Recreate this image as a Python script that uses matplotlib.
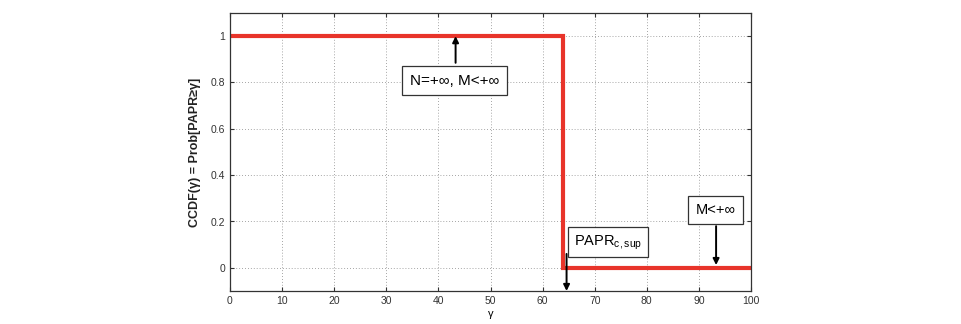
import matplotlib
matplotlib.use("Agg")
import matplotlib.pyplot as plt

plt.rcParams["font.family"] = ["Liberation Sans", "DejaVu Sans"]
plt.rcParams["mathtext.fontset"] = "custom"
plt.rcParams["mathtext.rm"] = "Liberation Sans"

# data
gamma = [0, 64, 64, 100]
ccdf = [1, 1, 0, 0]
xticks = [0, 10, 20, 30, 40, 50, 60, 70, 80, 90, 100]
yticks = [0, 0.2, 0.4, 0.6, 0.8, 1]
ytick_labels = ["0", "0.2", "0.4", "0.6", "0.8", "1"]

fig = plt.figure(figsize=(9.62, 3.24), dpi=100)
ax = fig.add_axes([230/962, 1-291/324, 521/962, 278/324])
ax.plot(gamma, ccdf, color="#e8342a", lw=3, solid_joinstyle="miter")
ax.set_xlim(0, 100)
ax.set_ylim(-0.1, 1.1)
ax.set_xticks(xticks)
ax.set_yticks(yticks)
ax.set_yticklabels(ytick_labels)
ax.tick_params(direction="in", labelsize=7.5, colors="#333333", top=True, right=True, length=3)
ax.grid(True, linestyle=(0, (1, 2.5)), color="#888888", lw=0.6)
for s in ax.spines.values():
    s.set_color("#333333")
    s.set_linewidth(0.9)
ax.set_xlabel("γ", fontsize=8, labelpad=2)
ax.set_ylabel("CCDF(γ) = Prob[PAPR≥γ]", fontsize=9, fontweight="bold", color="#222222", labelpad=7)

box = dict(boxstyle="square,pad=0.5", fc="white", ec="#333333", lw=0.9)
arrow = dict(arrowstyle="-|>", color="black", lw=1.4, mutation_scale=9, shrinkA=0, shrinkB=0)
ax.annotate("", xy=(43.3, 1.0), xytext=(43.3, 0.885), arrowprops=arrow)
ax.text(43.1, 0.808, "N=+∞, M<+∞", fontsize=11, ha="center", va="center", bbox=box)
ax.annotate("", xy=(64.6, -0.1), xytext=(64.6, 0.06), arrowprops=arrow)
ax.text(66.0, 0.11, "PAPR$_{\\mathregular{c,sup}}$", fontsize=10.5, ha="left", va="center",
        bbox=dict(boxstyle="square,pad=0.4", fc="white", ec="#333333", lw=0.9))
ax.annotate("", xy=(93.3, 0.012), xytext=(93.3, 0.18), arrowprops=arrow)
ax.text(93.2, 0.25, "M<+∞", fontsize=10.5, ha="center", va="center", bbox=box)

fig.savefig("out.png", dpi=100)
